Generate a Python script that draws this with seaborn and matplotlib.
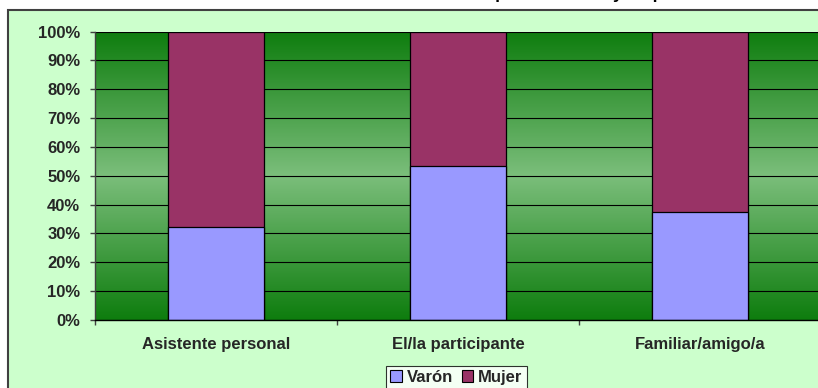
import numpy as np
import pandas as pd
import matplotlib
matplotlib.use("Agg")
import matplotlib.pyplot as plt
from matplotlib.patches import Rectangle, Patch
from matplotlib.colors import LinearSegmentedColormap
import seaborn as sns

# Data (percent of each respondent group)
categories = ["Asistente personal", "El/la participante", "Familiar/amigo/a"]
varon = [32.3, 53.3, 37.3]
mujer = [67.7, 46.7, 62.7]
series_names = ["Varón", "Mujer"]
series_colors = ["#9999FF", "#993366"]
y_ticks = list(range(0, 101, 10))
y_tick_labels = [f"{t}%" for t in y_ticks]
title = "Reparto de sexo y de persona informante"

sns.set_theme(style="white")
plt.rcParams["font.family"] = ["Liberation Sans", "DejaVu Sans"]
plt.rcParams["font.weight"] = "bold"

W, H = 818, 388
fig = plt.figure(figsize=(W / 100, H / 100), dpi=100, facecolor="white")

# Light green chart area with a dark border, kept behind the axes
fig.patches.append(Rectangle((8 / W, -0.2), 1.2, 1 - 10 / H + 0.2,
                             transform=fig.transFigure, facecolor="#CCFFCC",
                             edgecolor="#404040", lw=1.5, zorder=-5))

# Title (sits above the chart area, mostly beyond the top edge)
fig.text(473 / W, 1 + 1 / H, title, ha="left", va="baseline",
         fontsize=12.5, fontweight="bold", color="black", zorder=5)

ax = fig.add_axes([95 / W, (H - 320) / H, (821 - 95) / W, (320 - 31.5) / H])
ax.set_zorder(1)
ax.set_facecolor("none")

df = pd.DataFrame({
    "categoria": categories,
    "varon": varon,
    "total": [v + m for v, m in zip(varon, mujer)],
})

# Stacked 100% bars: full bar in the Mujer colour, Varón drawn over it
sns.barplot(data=df, x="categoria", y="total", color=series_colors[1],
            width=0.397, edgecolor="black", linewidth=0.9, saturation=1, ax=ax)
sns.barplot(data=df, x="categoria", y="varon", color=series_colors[0],
            width=0.397, edgecolor="black", linewidth=0.9, saturation=1, ax=ax)

# Vertical green gradient: dark at top and bottom, light in the middle
yy = np.linspace(0, 1, 300)
t = 1 - np.abs(yy - 0.5) * 2
grad = t[:, None]
cmap = LinearSegmentedColormap.from_list("g", ["#0E7D0E", "#7BBE7B"])
ax.imshow(grad, extent=[-0.5, 2.5, 0, 100], origin="lower", aspect="auto",
          cmap=cmap, vmin=0, vmax=1, zorder=0.1, interpolation="bilinear")

ax.set_xlim(-0.5, 2.5)
ax.set_ylim(0, 100)
ax.set_axisbelow(True)
ax.yaxis.grid(True, color="black", lw=0.8)
ax.xaxis.grid(False)

ax.set_yticks(y_ticks)
ax.set_yticklabels(y_tick_labels, fontsize=12, fontweight="bold")
ax.tick_params(axis="y", direction="out", length=3.6, width=1, color="#404040",
               pad=7, left=True)

ax.set_xticks(range(len(categories)))
ax.set_xticklabels(categories, fontsize=12, fontweight="bold")
ax.set_xticks([-0.5, 0.5, 1.5, 2.5], minor=True)
ax.tick_params(axis="x", which="major", length=0, pad=12)
ax.tick_params(axis="x", which="minor", direction="out", length=3.6, width=1,
               color="#404040", bottom=True)
ax.set_xlabel("")
ax.set_ylabel("")

for s in ["top", "right"]:
    ax.spines[s].set_visible(False)
ax.spines["left"].set_color("#404040")
ax.spines["left"].set_linewidth(1)
ax.spines["bottom"].set_color("black")
ax.spines["bottom"].set_linewidth(1)

handles = [Patch(facecolor=c, edgecolor="black", lw=0.8) for c in series_colors]
leg = fig.legend(handles, series_names, loc="upper center",
                 bbox_to_anchor=(456.5 / W, 1 - 366 / H), ncol=2,
                 frameon=True, fancybox=False, edgecolor="black",
                 facecolor="white", fontsize=12, borderpad=0.25,
                 handlelength=0.7, handleheight=0.7, handletextpad=0.3,
                 columnspacing=0.5, borderaxespad=0)
leg.get_frame().set_linewidth(0.8)
for txt in leg.get_texts():
    txt.set_fontweight("bold")

fig.savefig("out.png", dpi=100, facecolor="white")
